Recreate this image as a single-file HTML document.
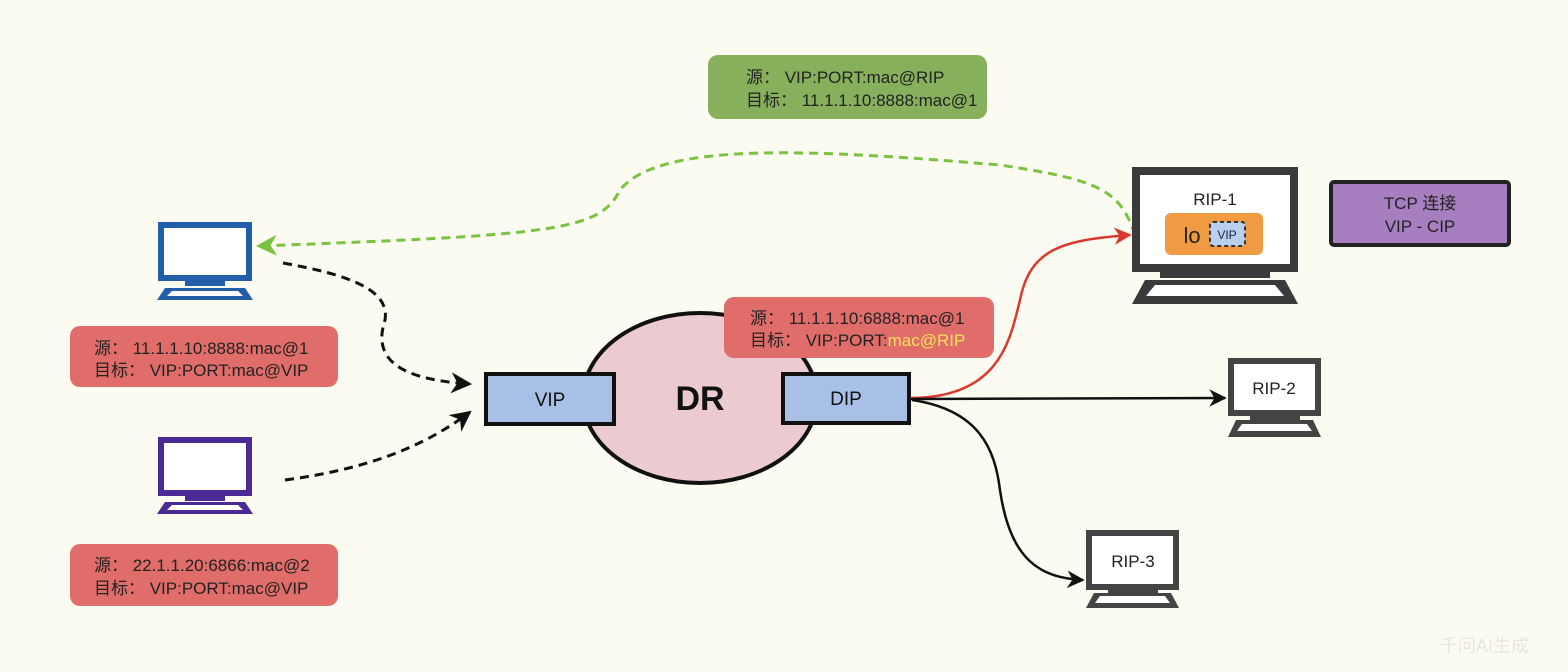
<!DOCTYPE html>
<html><head><meta charset="utf-8"><style>
html,body{margin:0;padding:0;background:#fcfbf1;}
svg{display:block;}
text{font-family:"Liberation Sans","Noto Sans CJK SC",sans-serif;}
</style></head><body>
<svg width="1568" height="672" viewBox="0 0 1568 672" xmlns="http://www.w3.org/2000/svg">
<defs>
<marker id="ab" viewBox="0 0 10 10" refX="9" refY="5" markerWidth="7" markerHeight="7" orient="auto-start-reverse"><path d="M0,0 L10,5 L0,10 L3,5z" fill="#111"/></marker>
<marker id="ar" viewBox="0 0 10 10" refX="9" refY="5" markerWidth="7" markerHeight="7" orient="auto"><path d="M0,0 L10,5 L0,10 L3,5z" fill="#d93a2b"/></marker>
<marker id="ag" viewBox="0 0 10 10" refX="9" refY="5" markerWidth="7" markerHeight="7" orient="auto"><path d="M0,0 L10,5 L0,10 L3,5z" fill="#7cc242"/></marker>
</defs>
<rect width="1568" height="672" fill="#fcfbf1"/>

<!-- green dashed -->
<path d="M1135,235 C1120,190 1100,180 1000,165 C820,150 660,140 620,190 C600,230 560,235 258,246" fill="none" stroke="#7cc242" stroke-width="3" stroke-dasharray="9,6" marker-end="url(#ag)"/>
<!-- black dashed from clients -->
<path d="M283,263 C350,275 390,290 385,320 C370,365 410,380 470,384" fill="none" stroke="#111" stroke-width="3" stroke-dasharray="9,6" marker-end="url(#ab)"/>
<path d="M285,480 C360,470 420,450 470,412" fill="none" stroke="#111" stroke-width="3" stroke-dasharray="9,6" marker-end="url(#ab)"/>

<!-- DR ellipse -->
<ellipse cx="700" cy="398" rx="117" ry="85" fill="#eccbd0" stroke="#111" stroke-width="4"/>
<text x="700" y="410" font-size="34" font-weight="bold" text-anchor="middle" fill="#111">DR</text>
<rect x="486" y="374" width="128" height="50" fill="#a8c0e6" stroke="#111" stroke-width="4"/>
<text x="550" y="406" font-size="19" text-anchor="middle" fill="#111">VIP</text>
<rect x="783" y="374" width="126" height="49" fill="#a8c0e6" stroke="#111" stroke-width="4"/>
<text x="846" y="405" font-size="19" text-anchor="middle" fill="#111">DIP</text>

<!-- connectors from DIP -->
<path d="M910,398 C1000,398 1010,340 1020,300 C1030,250 1060,240 1130,235" fill="none" stroke="#d93a2b" stroke-width="2.5" marker-end="url(#ar)"/>
<path d="M910,399 L1225,398" fill="none" stroke="#111" stroke-width="2.5" marker-end="url(#ab)"/>
<path d="M912,400 C980,410 995,450 1000,490 C1010,560 1040,578 1083,580" fill="none" stroke="#111" stroke-width="2.5" marker-end="url(#ab)"/>

<!-- red labels -->
<rect x="724" y="297" width="270" height="61" rx="10" fill="#e06d6a"/>
<text x="750" y="324" font-size="17" fill="#222">源： 11.1.1.10:6888:mac@1</text>
<text x="750" y="346" font-size="17" fill="#222">目标： VIP:PORT:<tspan fill="#f4e45c">mac@RIP</tspan></text>

<rect x="70" y="326" width="268" height="61" rx="10" fill="#e06d6a"/>
<text x="94" y="354" font-size="17" fill="#222">源： 11.1.1.10:8888:mac@1</text>
<text x="94" y="376" font-size="17" fill="#222">目标： VIP:PORT:mac@VIP</text>

<rect x="70" y="544" width="268" height="62" rx="10" fill="#e06d6a"/>
<text x="94" y="571" font-size="17" fill="#222">源： 22.1.1.20:6866:mac@2</text>
<text x="94" y="594" font-size="17" fill="#222">目标： VIP:PORT:mac@VIP</text>

<!-- green label -->
<rect x="708" y="55" width="279" height="64" rx="10" fill="#86b05b"/>
<text x="746" y="83" font-size="17" fill="#222">源： VIP:PORT:mac@RIP</text>
<text x="746" y="106" font-size="17" fill="#222">目标： 11.1.1.10:8888:mac@1</text>

<!-- purple -->
<rect x="1331" y="182" width="178" height="63" rx="3" fill="#a77fc0" stroke="#222" stroke-width="4"/>
<text x="1420" y="209" font-size="17" text-anchor="middle" fill="#222">TCP 连接</text>
<text x="1420" y="232" font-size="17" text-anchor="middle" fill="#222">VIP - CIP</text>

<!-- blue client -->
<g fill="none">
<rect x="161" y="225" width="88" height="53" fill="#fff" stroke="#235fa8" stroke-width="6"/>
<rect x="185" y="278" width="40" height="8" fill="#235fa8"/>
<path d="M165,288 L245,288 L253,300 L157,300z" fill="#235fa8"/>
<path d="M172,291 L238,291 L243,296 L167,296z" fill="#fff"/>
</g>
<!-- purple client -->
<g>
<rect x="161" y="440" width="88" height="53" fill="#fff" stroke="#4b2a96" stroke-width="6"/>
<rect x="185" y="493" width="40" height="8" fill="#4b2a96"/>
<path d="M165,502 L245,502 L253,514 L157,514z" fill="#4b2a96"/>
<path d="M172,505 L238,505 L243,510 L167,510z" fill="#fff"/>
</g>

<!-- RIP-1 -->
<g>
<rect x="1136" y="171" width="158" height="97" fill="#fff" stroke="#3a3a3a" stroke-width="8"/>
<rect x="1160" y="268" width="110" height="10" fill="#3a3a3a"/>
<path d="M1145,280 L1285,280 L1298,304 L1132,304z" fill="#3a3a3a"/>
<path d="M1155,285 L1275,285 L1284,296 L1146,296z" fill="#fff"/>
<text x="1215" y="205" font-size="17" text-anchor="middle" fill="#222">RIP-1</text>
<rect x="1165" y="213" width="98" height="42" rx="6" fill="#f09a42"/>
<text x="1192" y="243" font-size="22" text-anchor="middle" fill="#222">lo</text>
<rect x="1210" y="222" width="35" height="24" rx="3" fill="#b8d0f0" stroke="#333" stroke-width="2" stroke-dasharray="4,3"/>
<text x="1227" y="239" font-size="12" text-anchor="middle" fill="#223">VIP</text>
</g>

<!-- RIP-2 -->
<g>
<rect x="1231" y="361" width="87" height="52" fill="#fff" stroke="#444" stroke-width="6"/>
<rect x="1250" y="413" width="50" height="7" fill="#444"/>
<path d="M1236,420 L1313,420 L1321,437 L1228,437z" fill="#444"/>
<path d="M1242,424 L1307,424 L1312,431 L1237,431z" fill="#fff"/>
<text x="1274" y="394" font-size="17" text-anchor="middle" fill="#222">RIP-2</text>
</g>
<!-- RIP-3 -->
<g>
<rect x="1089" y="533" width="87" height="54" fill="#fff" stroke="#444" stroke-width="6"/>
<rect x="1108" y="587" width="50" height="6" fill="#444"/>
<path d="M1094,593 L1171,593 L1179,608 L1086,608z" fill="#444"/>
<path d="M1100,596 L1165,596 L1170,603 L1095,603z" fill="#fff"/>
<text x="1133" y="567" font-size="17" text-anchor="middle" fill="#222">RIP-3</text>
</g>

<text x="1440" y="652" font-size="18" fill="#e8e6dc">千问AI生成</text>
</svg>
</body></html>
